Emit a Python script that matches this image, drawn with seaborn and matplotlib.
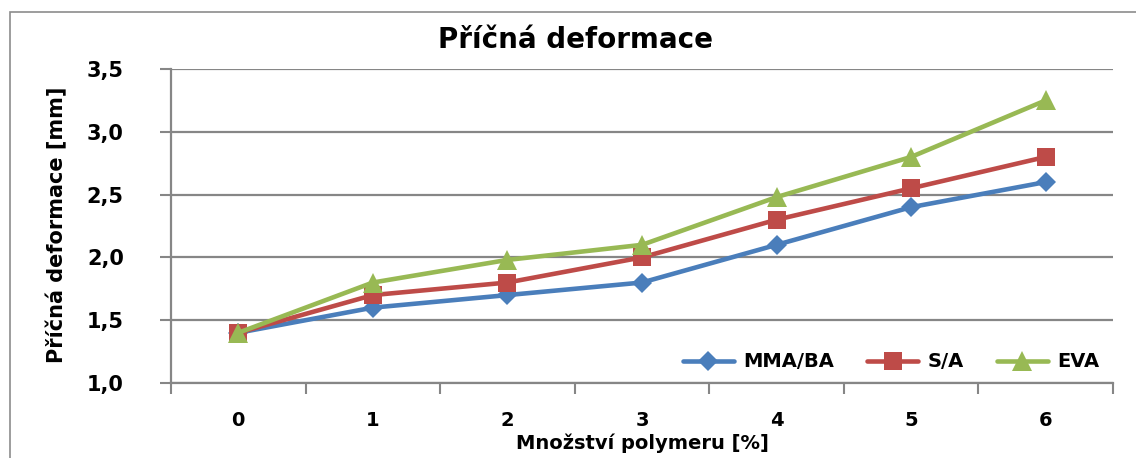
import matplotlib
matplotlib.use("Agg")
import matplotlib.pyplot as plt
import seaborn as sns
import pandas as pd
import numpy as np
from matplotlib.patches import Rectangle
from matplotlib.ticker import FuncFormatter, FixedLocator
from matplotlib.colors import to_hex

categories = [0, 1, 2, 3, 4, 5, 6]
mma_ba = [1.4, 1.6, 1.7, 1.8, 2.1, 2.4, 2.6]
s_a = [1.4, 1.7, 1.8, 2.0, 2.3, 2.55, 2.8]
eva = [1.4, 1.8, 1.98, 2.1, 2.48, 2.8, 3.25]
series_names = ["MMA/BA", "S/A", "EVA"]
title = "Příčná deformace"
xlabel = "Množství polymeru [%]"
ylabel = "Příčná deformace [mm]"

df = pd.DataFrame({
    "x": categories * 3,
    "y": mma_ba + s_a + eva,
    "series": [series_names[0]] * 7 + [series_names[1]] * 7 + [series_names[2]] * 7,
})

sns.set_theme(style="white")
plt.rcParams["font.family"] = ["DejaVu Sans"]
plt.rcParams["font.weight"] = "bold"
plt.rcParams["text.color"] = "black"
plt.rcParams["xtick.color"] = "black"
plt.rcParams["ytick.color"] = "black"

fig = plt.figure(figsize=(11.36, 4.58), dpi=100)
ax = fig.add_axes([171 / 1136, 1 - 383 / 458, (1113 - 171) / 1136, (383 - 69) / 458])

# outer frame
fig.patches.append(Rectangle((10 / 1136, -0.1), 1.2, 1 - 12 / 458 + 0.1,
                             transform=fig.transFigure, fill=False,
                             edgecolor="#8c8c8c", linewidth=1.2))

palette = {"MMA/BA": "#4A7EBB", "S/A": "#BE4B48", "EVA": "#98B954"}
markers = {"MMA/BA": "D", "S/A": "s", "EVA": "^"}
msize = {"MMA/BA": 10.5, "S/A": 12.5, "EVA": 14}

sns.lineplot(data=df, x="x", y="y", hue="series", style="series",
             palette=palette, markers=markers, dashes=False,
             linewidth=3.3, markersize=12, markeredgewidth=0,
             ax=ax, legend=True)

color_to_name = {to_hex(c).lower(): n for n, c in palette.items()}

ax.set_xlim(-0.5, 6.5)
ax.set_ylim(1.0, 3.5)
ax.set_xticks(categories)
ax.set_xticklabels([str(c) for c in categories], fontsize=14, fontweight="bold")
ax.xaxis.set_minor_locator(FixedLocator(np.arange(-0.5, 7.0, 1.0)))
ax.tick_params(axis="x", which="major", bottom=True, length=0, pad=20, labelcolor="black")
ax.tick_params(axis="x", which="minor", bottom=True, length=8, width=1.5,
               color="#868686", direction="out")
ax.set_yticks(np.arange(1.0, 3.51, 0.5))
ax.yaxis.set_major_formatter(FuncFormatter(lambda v, p: f"{v:.1f}".replace(".", ",")))
ax.tick_params(axis="y", which="major", left=True, length=8, width=1.5, color="#868686",
               direction="out", labelsize=15, pad=26, labelcolor="black")
for lab in ax.get_yticklabels():
    lab.set_fontweight("bold")

ax.grid(axis="y", color="#868686", linewidth=1.6)
ax.grid(axis="x", visible=False)
for s in ["top", "right"]:
    ax.spines[s].set_visible(False)
for s in ["left", "bottom"]:
    ax.spines[s].set_color("#868686")
    ax.spines[s].set_linewidth(1.6)

ax.set_xlabel("")
ax.set_ylabel("")
fig.text(642 / 1136, 1 - 443 / 458, xlabel, ha="center", va="center",
         fontsize=14, fontweight="bold", color="black")
fig.text(57 / 1136, 1 - 225 / 458, ylabel, ha="center", va="center",
         rotation=90, fontsize=15, fontweight="bold", color="black")
fig.text(576 / 1136, 1 - 40 / 458, title, ha="center", va="center",
         fontsize=20, fontweight="bold", color="black")

handles, labels = ax.get_legend_handles_labels()
leg = ax.legend(handles, labels, loc="center right", bbox_to_anchor=(1.0, 0.067),
                ncol=3, frameon=False, fontsize=14, handlelength=2.6,
                columnspacing=1.7, handletextpad=0.5, borderaxespad=0.3)
for t in leg.get_texts():
    t.set_fontweight("bold")
    t.set_color("black")

for line in list(ax.lines) + list(leg.get_lines()):
    n = color_to_name.get(to_hex(line.get_color()).lower())
    if n is not None:
        line.set_markersize(msize[n])

fig.savefig("out.png", dpi=100)
